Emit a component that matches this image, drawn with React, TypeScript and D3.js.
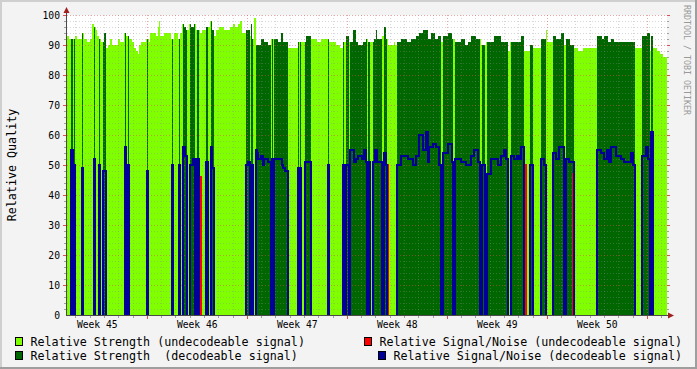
import React from "react";
import * as d3 from "d3";

const W = 697;
const H = 369;

// rrd step: 42 days squeezed into 600 rows
const SAMPLES = 600;
const STEP_MS = 6048 * 1000;
const START = Date.UTC(2008, 10, 4, 9, 6);

// [firstSample, value] change points of the relative strength
const strengthSteps: [number, number][] = [
  [0, 93], [2, 92], [8, 93], [10, 92], [15, 94], [17, 92], [20, 91], [23, 92], [25, 97], [27, 96],
  [29, 95], [30, 93], [32, 92], [34, 91], [37, 94], [39, 89], [41, 90], [43, 92], [45, 90], [51, 92],
  [53, 91], [57, 94], [59, 93], [62, 92], [65, 91], [67, 89], [69, 88], [71, 87], [72, 90], [74, 91],
  [79, 92], [82, 91], [83, 94], [89, 93], [91, 96], [92, 98], [93, 93], [97, 94], [104, 92], [107, 94],
  [111, 92], [113, 94], [115, 97], [117, 96], [119, 95], [122, 97], [124, 96], [127, 97], [129, 95],
  [133, 94], [135, 95], [139, 96], [143, 98], [145, 95], [147, 93], [149, 95], [152, 96], [157, 95],
  [163, 96], [166, 97], [168, 96], [171, 97], [173, 98], [175, 94], [179, 95], [183, 93], [184, 97],
  [185, 92], [187, 99], [189, 90], [194, 92], [197, 91], [201, 90], [204, 92], [211, 91], [214, 94],
  [216, 91], [221, 89], [231, 91], [239, 93], [244, 92], [250, 91], [254, 92], [262, 91], [269, 90],
  [273, 89], [276, 91], [279, 93], [282, 91], [286, 95], [289, 91], [291, 90], [296, 91], [299, 92],
  [301, 91], [307, 92], [309, 95], [310, 92], [315, 93], [317, 96], [319, 92], [321, 90], [327, 91],
  [328, 90], [330, 91], [334, 92], [340, 91], [344, 92], [349, 93], [352, 94], [356, 95], [361, 92],
  [364, 94], [368, 92], [371, 93], [374, 91], [376, 93], [381, 94], [385, 92], [388, 91], [394, 92],
  [398, 90], [401, 91], [404, 93], [409, 92], [414, 90], [419, 91], [427, 93], [434, 91], [441, 88],
  [443, 91], [454, 93], [457, 88], [463, 90], [466, 89], [474, 92], [479, 95], [480, 91], [486, 93],
  [489, 92], [494, 94], [497, 90], [499, 92], [503, 90], [507, 89], [511, 88], [516, 89], [530, 93],
  [535, 92], [537, 93], [541, 91], [544, 92], [547, 91], [568, 89], [575, 93], [580, 94], [583, 88],
  [584, 93], [586, 89], [590, 88], [593, 87], [596, 86],
];

// [start, end) sample runs where the signal was decodeable
const decodeRuns: [number, number][] = [
  [4, 6], [7, 8], [15, 16], [27, 28], [32, 33], [36, 39], [58, 59], [61, 62], [80, 81], [105, 106],
  [112, 113], [116, 120], [123, 128], [130, 132], [139, 141], [144, 147], [179, 183], [184, 186],
  [189, 204], [205, 206], [207, 221], [231, 232], [233, 234], [238, 244], [261, 262], [276, 277],
  [279, 282], [283, 300], [301, 303], [306, 315], [317, 320], [330, 374], [376, 386], [388, 413],
  [415, 418], [420, 441], [444, 457], [463, 466], [474, 479], [486, 497], [499, 507], [530, 568],
  [575, 583], [584, 586],
];

// [firstSample, value] change points of the relative signal/noise
const snrSteps: [number, number][] = [
  [0, 50], [4, 55], [6, 50], [15, 49], [27, 52], [32, 50], [36, 48], [58, 56], [60, 50], [80, 48],
  [105, 50], [112, 50], [116, 56], [118, 53], [123, 50], [126, 52], [130, 52], [139, 51], [144, 56],
  [145, 49], [179, 50], [181, 51], [184, 50], [189, 55], [190, 54], [191, 52], [194, 53], [196, 50],
  [197, 52], [201, 51], [205, 52], [215, 50], [216, 49], [218, 48], [231, 49], [238, 51], [261, 50],
  [276, 50], [283, 55], [287, 51], [289, 52], [291, 53], [295, 52], [297, 55], [299, 51], [308, 55],
  [310, 51], [317, 54], [319, 50], [330, 50], [334, 53], [341, 52], [346, 50], [349, 53], [352, 60],
  [356, 55], [359, 61], [361, 51], [362, 56], [366, 57], [369, 56], [372, 50], [376, 54], [381, 57],
  [385, 51], [388, 52], [394, 51], [399, 50], [404, 53], [407, 55], [411, 51], [415, 50], [420, 47],
  [424, 52], [431, 50], [434, 53], [437, 55], [439, 52], [444, 53], [447, 52], [450, 53], [452, 52],
  [454, 56], [463, 50], [474, 52], [477, 50], [486, 54], [489, 52], [492, 56], [499, 52], [502, 51],
  [530, 55], [534, 54], [537, 52], [540, 55], [542, 51], [544, 56], [549, 53], [554, 52], [557, 51],
  [564, 54], [566, 50], [575, 53], [579, 56], [581, 52], [584, 61],
];

// [sample, value] of the few undecodeable S/N readings
const snrUndecodeable: [number, number][] = [[133, 46], [320, 50], [458, 50], [506, 47]];

const yTicks = [0, 10, 20, 30, 40, 50, 60, 70, 80, 90, 100];

const LIGHT = "#80FF00";
const DARK = "#006600";
const RED = "#FF0000";
const BLUE = "#000099";

const legendLeft = [
  { label: "Relative Strength (undecodeable signal)", color: LIGHT },
  { label: "Relative Strength\u00A0\u00A0(decodeable signal)", color: DARK },
];
const legendRight = [
  { label: "Relative Signal/Noise (undecodeable signal)", color: RED },
  { label: "Relative Signal/Noise (decodeable signal)", color: BLUE },
];

const tAt = (i: number) => new Date(START + i * STEP_MS);

function expand(steps: [number, number][]) {
  const out: number[] = [];
  let k = 0;
  for (let i = 0; i < SAMPLES; i++) {
    while (k + 1 < steps.length && steps[k + 1][0] <= i) k++;
    out.push(steps[k][1]);
  }
  return out;
}

export default function App() {
  const x = d3.scaleUtc().domain([tAt(0), tAt(SAMPLES)]).range([67, 667]);
  const y = d3.scaleLinear().domain([0, 100]).range([315, 15]);
  const x0 = x.range()[0];
  const x1 = x.range()[1];
  const yb = y(0);
  const yt = y(100);

  const strength = expand(strengthSteps);
  const snr = expand(snrSteps);
  const decodable = new Array(SAMPLES).fill(false);
  decodeRuns.forEach(([a, b]) => {
    for (let i = a; i < b; i++) decodable[i] = true;
  });
  const snrDec = snr.map((v, i) => (decodable[i] ? v : 0));
  const snrUnd = new Array(SAMPLES).fill(0);
  snrUndecodeable.forEach(([i, v]) => (snrUnd[i] = v));

  const idx = d3.range(SAMPLES + 1);
  const at = (arr: number[], i: number) => arr[Math.min(i, SAMPLES - 1)];

  const lightArea = d3
    .area<number>()
    .x((i) => x(tAt(i)))
    .y0(yb)
    .y1((i) => y(at(strength, i)))
    .curve(d3.curveStepAfter)(idx);

  const darkAreas = decodeRuns.map(([a, b]) =>
    d3
      .area<number>()
      .x((i) => x(tAt(i)))
      .y0(yb)
      .y1((i) => y(strength[Math.min(i, b - 1)]))
      .curve(d3.curveStepAfter)(d3.range(a, b + 1))
  );

  const stepLine = (arr: number[]) =>
    d3
      .line<number>()
      .x((i) => x(tAt(i)))
      .y((i) => (at(arr, i) > 0 ? y(at(arr, i)) : yb + 3))
      .curve(d3.curveStepAfter)(idx);

  // grid
  const days = d3.utcDay.range(tAt(0), tAt(SAMPLES));
  const weekLabels = d3.utcMonday
    .range(d3.utcMonday.floor(tAt(0)), tAt(SAMPLES))
    .map((m) => new Date(m.getTime() + 3.5 * 864e5))
    .filter((d) => d >= tAt(0) && d <= tAt(SAMPLES));
  const fmtWeek = d3.utcFormat("Week %V");
  const hMinor = d3.range(2, 100, 2).filter((v) => v % 10 !== 0);
  const hMajor = yTicks.filter((v) => v > 0);

  const minorStroke = "rgba(140,140,140,0.35)";
  const majorStroke = "rgba(222,80,80,0.5)";

  const mono = "'DejaVu Sans Mono', monospace";
  const legendFont = 11.7;
  const adv = legendFont * 0.602;

  return (
    <svg
      width={W}
      height={H}
      style={{ position: "absolute", left: 0, top: 0, display: "block" }}
      fontFamily={mono}
    >
      <defs>
        <clipPath id="plot">
          <rect x={x0} y={0} width={x1 - x0} height={yb} />
        </clipPath>
      </defs>
      <rect x={0} y={0} width={W} height={H} fill="#F3F3F3" />
      <path d={`M0,1H${W}M1,0V${H}`} stroke="#CFCFCF" strokeWidth={2} />
      <path d={`M0,${H - 1}H${W}M${W - 1},0V${H}`} stroke="#9E9E9E" strokeWidth={2} />
      <rect x={x0} y={yt} width={x1 - x0} height={yb - yt} fill="#FFFFFF" />

      <g clipPath="url(#plot)">
        <path d={lightArea || ""} fill={LIGHT} />
        {darkAreas.map((d, k) => (
          <path key={k} d={d || ""} fill={DARK} />
        ))}
      </g>

      {/* grid */}
      <g strokeDasharray="1,2" strokeWidth={1}>
        {hMinor.map((v) => (
          <line key={"hm" + v} x1={x0} x2={x1} y1={y(v) + 0.5} y2={y(v) + 0.5} stroke={minorStroke} />
        ))}
        {days.map((d) => {
          const px = Math.floor(x(d)) + 0.5;
          const major = d.getUTCDay() === 1;
          return (
            <line key={"v" + d.getTime()} x1={px} x2={px} y1={yt} y2={yb} stroke={major ? majorStroke : minorStroke} />
          );
        })}
        {hMajor.map((v) => (
          <line key={"hM" + v} x1={x0} x2={x1} y1={y(v) + 0.5} y2={y(v) + 0.5} stroke={majorStroke} />
        ))}
      </g>

      <g clipPath="url(#plot)" fill="none" strokeWidth={2}>
        <path d={stepLine(snrUnd) || ""} stroke={RED} />
        <path d={stepLine(snrDec) || ""} stroke={BLUE} />
      </g>

      {/* ticks */}
      <g strokeWidth={1}>
        {d3.range(2, 101, 2).map((v) => {
          const major = v % 10 === 0;
          const py = y(v) + 0.5;
          const c = major ? "#DE5050" : "#A0A0A0";
          return (
            <g key={"t" + v}>
              <line x1={x0 - (major ? 4 : 3)} x2={x0 - 1} y1={py} y2={py} stroke={c} />
              <line x1={x1} x2={x1 + (major ? 3 : 2)} y1={py} y2={py} stroke={c} />
            </g>
          );
        })}
        {days.map((d) => {
          const px = Math.floor(x(d)) + 0.5;
          const major = d.getUTCDay() === 1;
          return (
            <line
              key={"bt" + d.getTime()}
              x1={px}
              x2={px}
              y1={yb + 1}
              y2={yb + (major ? 4 : 3)}
              stroke={major ? "#DE5050" : "#A0A0A0"}
            />
          );
        })}
      </g>

      {/* axes */}
      <line x1={x0 - 0.5} x2={x0 - 0.5} y1={yb + 1} y2={yt - 5} stroke="#4A4A4A" />
      <line x1={x0 - 1} x2={x1 + 3} y1={yb + 0.5} y2={yb + 0.5} stroke="#4A4A4A" />
      <path d={`M${x0 - 3.5},${yt - 2}L${x0 + 2.5},${yt - 2}L${x0 - 0.5},${yt - 8}Z`} fill="#A02020" />
      <path d={`M${x1 + 1},${yb - 2.5}L${x1 + 1},${yb + 3.5}L${x1 + 7},${yb + 0.5}Z`} fill="#A02020" />

      {/* labels */}
      <g fontSize={9.7} fill="#000">
        {yTicks.map((v) => (
          <text key={"yl" + v} x={x0 - 7} y={y(v) + 3.8} textAnchor="end">
            {v}
          </text>
        ))}
        {weekLabels.map((d) => (
          <text key={"wl" + d.getTime()} x={x(d)} y={yb + 13} textAnchor="middle">
            {fmtWeek(d)}
          </text>
        ))}
      </g>
      <text
        transform={`translate(15.5,${(yt + yb) / 2}) rotate(-90)`}
        textAnchor="middle"
        fontSize={legendFont}
        fill="#000"
      >
        Relative Quality
      </text>
      <text transform="translate(684,5) rotate(90)" fontSize={8.3} fill="#999999">
        RRDTOOL / TOBI OETIKER
      </text>

      {/* legend */}
      <g fontSize={legendFont}>
        {legendLeft.map((l, k) => (
          <g key={l.label}>
            <rect x={15.5} y={337.5 + k * 14} width={7} height={8} fill={l.color} stroke="#000" />
            <text x={30.5} y={345.5 + k * 14} fill="#000">
              {l.label}
            </text>
          </g>
        ))}
        {legendRight.map((l, k) => {
          const tx = 682 - l.label.length * adv;
          return (
            <g key={l.label}>
              <rect x={Math.round(tx) - 14.5} y={337.5 + k * 14} width={7} height={8} fill={l.color} stroke="#000" />
              <text x={682} y={345.5 + k * 14} fill="#000" textAnchor="end">
                {l.label}
              </text>
            </g>
          );
        })}
      </g>
    </svg>
  );
}
